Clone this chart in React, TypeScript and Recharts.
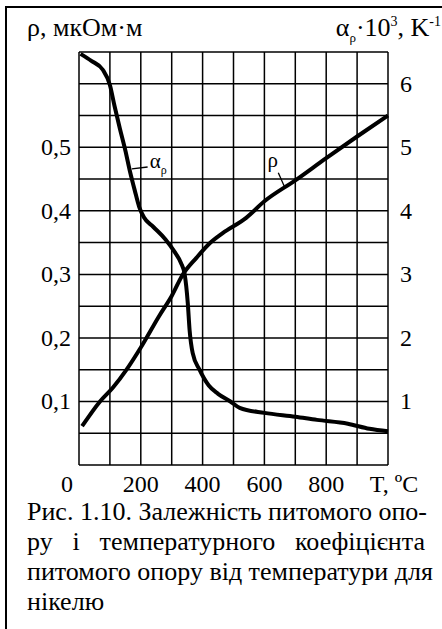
import React from 'react';
import { LineChart, Line, XAxis, YAxis, CartesianGrid, ReferenceLine, ReferenceDot } from 'recharts';

// temperature, °C
const rhoTemps = [10, 68, 110, 155, 200, 260, 300, 335, 380, 423, 465, 541, 600, 700, 800, 900, 1000];
// resistivity, µΩ·m
const rhoValues = [0.061, 0.1, 0.122, 0.151, 0.185, 0.235, 0.266, 0.299, 0.326, 0.349, 0.365, 0.389, 0.415, 0.448, 0.483, 0.517, 0.55];

const alphaTemps = [5, 40, 77, 100, 115, 132, 150, 165, 180, 195, 210, 240, 280, 310, 330, 342, 352, 358, 368, 390, 420, 450, 490, 520, 600, 700, 770, 870, 940, 1000];
// alpha * 10^3, 1/K
const alphaValues = [6.47, 6.36, 6.22, 5.98, 5.65, 5.3, 4.95, 4.62, 4.33, 4.06, 3.9, 3.75, 3.55, 3.35, 3.18, 3.0, 2.55, 2.12, 1.76, 1.5, 1.25, 1.12, 1.0, 0.9, 0.82, 0.76, 0.71, 0.65, 0.57, 0.53];

const xTicks = [0, 100, 200, 300, 400, 500, 600, 700, 800, 900, 1000];
const xLabels: Record<number, string> = { 0: '0', 200: '200', 400: '400', 600: '600', 800: '800', 1000: 'T, ºC' };

const rhoTicks = [0, 0.05, 0.1, 0.15, 0.2, 0.25, 0.3, 0.35, 0.4, 0.45, 0.5, 0.55, 0.6, 0.65];
const rhoLabelled = [0.1, 0.2, 0.3, 0.4, 0.5];

const alphaTicks = [1, 2, 3, 4, 5, 6];

const captionLines = [
  'Рис. 1.10. Залежність питомого опо-',
  'ру  і  температурного  коефіцієнта',
  'питомого опору від температури для',
];
const captionLast = 'нікелю';

const rhoData = rhoTemps.map((t, i) => ({ t, rho: rhoValues[i] }));
const alphaData = alphaTemps.map((t, i) => ({ t, alpha: alphaValues[i] }));

const FONT = 'Liberation Serif, DejaVu Serif, serif';

const XTick = ({ x, y, payload }: any) => {
  const label = xLabels[payload.value];
  if (!label) return null;
  const dx = payload.value === 0 ? -12 : payload.value === 1000 ? 6 : 0;
  return (
    <text x={x + dx} y={y + 27} textAnchor="middle" fontFamily={FONT} fontSize={24} fill="#000">
      {label}
    </text>
  );
};

const LeftTick = ({ x, y, payload }: any) => {
  if (!rhoLabelled.some(v => Math.abs(v - payload.value) < 1e-6)) return null;
  return (
    <text x={x - 8} y={y + 8} textAnchor="end" fontFamily={FONT} fontSize={24} fill="#000">
      {payload.value.toFixed(1).replace('.', ',')}
    </text>
  );
};

const RightTick = ({ x, y, payload }: any) => (
  <text x={x + 12} y={y + 8} textAnchor="start" fontFamily={FONT} fontSize={24} fill="#000">
    {payload.value}
  </text>
);

const alphaLabel = (props: any) => {
  const { x, y } = props.viewBox;
  return (
    <text x={x} y={y} fontFamily={FONT} fontSize={21} fill="#000">
      α<tspan fontSize={12} dy={6}>ρ</tspan>
    </text>
  );
};

const rhoLabel = (props: any) => {
  const { x, y } = props.viewBox;
  return (
    <text x={x} y={y} fontFamily={FONT} fontSize={21} fill="#000">
      ρ
    </text>
  );
};

export default function App() {
  return (
    <div style={{ position: 'absolute', left: 0, top: 0, width: 442, height: 629, background: '#fff', fontFamily: FONT, color: '#000' }}>
      {/* frame */}
      <div style={{ position: 'absolute', left: 5, top: 6, width: 437, height: 623, borderTop: '2px solid #000', borderLeft: '2px solid #000' }} />

      <div style={{ position: 'absolute', left: 27, top: 13, fontSize: 26, whiteSpace: 'nowrap' }}>ρ, мкОм·м</div>
      <div style={{ position: 'absolute', right: 1, top: 13, fontSize: 26, whiteSpace: 'nowrap' }}>
        α<span style={{ fontSize: 13, position: 'relative', top: 6 }}>ρ</span>·10
        <span style={{ fontSize: 14, position: 'relative', top: -10 }}>3</span>, K
        <span style={{ fontSize: 14, position: 'relative', top: -10 }}>-1</span>
      </div>

      <div style={{ position: 'absolute', left: 0, top: 0 }}>
        <LineChart width={442} height={500} margin={{ top: 52, right: 0, bottom: 0, left: 0 }}>
          <CartesianGrid stroke="#000" strokeWidth={1.5} yAxisId="left" />
          <XAxis
            type="number"
            dataKey="t"
            domain={[0, 1000]}
            ticks={xTicks}
            height={35}
            axisLine={false}
            tickLine={false}
            tickSize={0}
            tickMargin={0}
            tick={<XTick />}
            interval={0}
          />
          <YAxis
            yAxisId="left"
            type="number"
            domain={[0, 0.65]}
            ticks={rhoTicks}
            width={79}
            axisLine={false}
            tickLine={false}
            tickSize={0}
            tickMargin={0}
            tick={<LeftTick />}
            interval={0}
          />
          <YAxis
            yAxisId="right"
            orientation="right"
            type="number"
            domain={[0, 6.5]}
            ticks={alphaTicks}
            width={54}
            axisLine={false}
            tickLine={false}
            tickSize={0}
            tickMargin={0}
            tick={<RightTick />}
            interval={0}
          />
          <Line
            data={rhoData}
            dataKey="rho"
            yAxisId="left"
            type="monotone"
            stroke="#000"
            strokeWidth={4}
            dot={false}
            isAnimationActive={false}
          />
          <Line
            data={alphaData}
            dataKey="alpha"
            yAxisId="right"
            type="monotone"
            stroke="#000"
            strokeWidth={4}
            dot={false}
            isAnimationActive={false}
          />
          <ReferenceLine
            yAxisId="right"
            segment={[{ x: 171, y: 4.66 }, { x: 222, y: 4.69 }]}
            stroke="#000"
            strokeWidth={1.3}
          />
          <ReferenceDot yAxisId="right" x={229} y={4.674} r={0} fill="none" stroke="none" label={alphaLabel} />
          <ReferenceLine
            yAxisId="left"
            segment={[{ x: 645, y: 0.46 }, { x: 665, y: 0.438 }]}
            stroke="#000"
            strokeWidth={1.3}
          />
          <ReferenceDot yAxisId="left" x={610} y={0.469} r={0} fill="none" stroke="none" label={rhoLabel} />
        </LineChart>
      </div>

      <div style={{ position: 'absolute', left: 27, top: 497, width: 398, fontSize: 26, lineHeight: '30px' }}>
        {captionLines.map((line, i) => (
          <div key={i} style={{ textAlign: 'justify', textAlignLast: 'justify', whiteSpace: 'nowrap' }}>{line}</div>
        ))}
        <div>{captionLast}</div>
      </div>
    </div>
  );
}
